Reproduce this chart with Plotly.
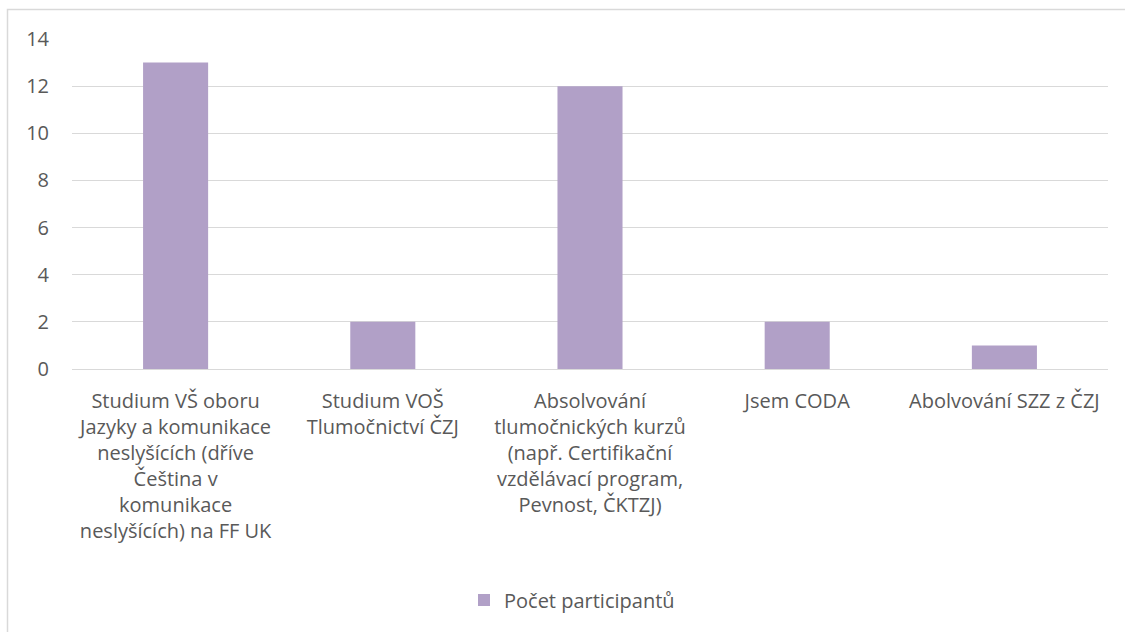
import plotly.graph_objects as go

categories = [
    "Studium VŠ oboru<br>Jazyky a komunikace<br>neslyšících (dříve<br>Čeština v<br>komunikace<br>neslyšících) na FF UK",
    "Studium VOŠ<br>Tlumočnictví ČZJ",
    "Absolvování<br>tlumočnických kurzů<br>(např. Certifikační<br>vzdělávací program,<br>Pevnost, ČKTZJ)",
    "Jsem CODA",
    "Abolvování SZZ z ČZJ",
]
values = [13, 2, 12, 2, 1]
series_name = "Počet participantů"
y_ticks = [0, 2, 4, 6, 8, 10, 12, 14]

FONT = "Open Sans"
TXT = "#595959"
GRID = "#D9D9D9"
FS = 20

fig = go.Figure()
fig.add_trace(go.Bar(x=categories, y=values, name=series_name,
                     marker=dict(color="#B1A0C7", line=dict(width=0)),
                     showlegend=True))

L, R, T, B = 72, 17, 39, 263
W, H = 1125, 632
pw, ph = W - L - R, H - T - B

fig.update_layout(
    width=W, height=H,
    margin=dict(l=L, r=R, t=T, b=B, pad=0),
    paper_bgcolor="white", plot_bgcolor="white",
    font=dict(family=FONT, size=FS, color=TXT),
    bargap=0.686,
    showlegend=True,
    legend=dict(orientation="h", x=(572 - L) / pw, xanchor="center",
                y=(H - B - 600) / ph, yanchor="middle",
                font=dict(family=FONT, size=FS, color=TXT)),
    xaxis=dict(showgrid=False, showline=False, ticks="", tickfont=dict(size=FS),
               ticklabelstandoff=18),
    yaxis=dict(range=[0, 14], tickvals=y_ticks, showgrid=True, gridcolor=GRID,
               gridwidth=1, zeroline=True, zerolinecolor=GRID, zerolinewidth=1,
               showline=False, ticks="", ticklabelstandoff=22,
               tickfont=dict(size=FS)),
    shapes=[dict(type="rect", xref="paper", yref="paper",
                 x0=(7.5 - L) / pw, x1=1.2,
                 y0=-1.2, y1=(H - B - 9.5) / ph,
                 line=dict(color=GRID, width=1.5), fillcolor="rgba(0,0,0,0)",
                 layer="below")],
)

fig.write_html("out.html", config={"displayModeBar": False},
               post_script="document.body.style.margin='0';document.body.style.overflow='hidden';")
